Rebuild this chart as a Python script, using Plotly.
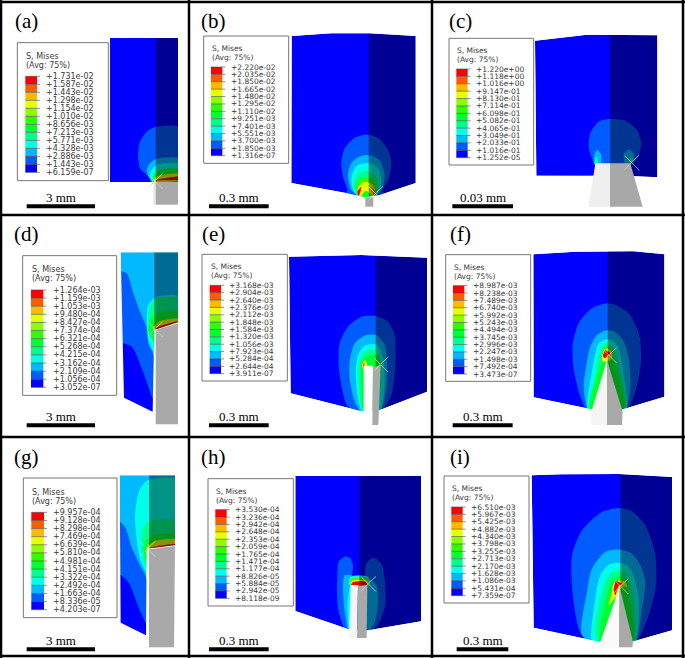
import plotly.graph_objects as go

# Abaqus 12 band spectrum, lowest stress first
SPECTRUM = ["#0000ff", "#005cff", "#00b9ff", "#00ffe8", "#00ff8b", "#00ff2e",
            "#2eff00", "#8bff00", "#e8ff00", "#ffb900", "#ff5c00", "#ff0000"]
PANEL_NAMES = ["(a)", "(b)", "(c)", "(d)", "(e)", "(f)", "(g)", "(h)", "(i)"]
SCALE_LABELS = ["3 mm", "0.3 mm", "0.03 mm", "3 mm", "0.3 mm", "0.3 mm", "3 mm", "0.3 mm", "0.3 mm"]

# contour legend values, top to bottom
MISES_A = ["+1.731e-02", "+1.587e-02", "+1.443e-02", "+1.298e-02", "+1.154e-02", "+1.010e-02", "+8.656e-03",
           "+7.213e-03", "+5.771e-03", "+4.328e-03", "+2.886e-03", "+1.443e-03", "+6.159e-07"]
MISES_B = ["+2.220e-02", "+2.035e-02", "+1.850e-02", "+1.665e-02", "+1.480e-02", "+1.295e-02", "+1.110e-02",
           "+9.251e-03", "+7.401e-03", "+5.551e-03", "+3.700e-03", "+1.850e-03", "+1.316e-07"]
MISES_C = ["+1.220e+00", "+1.118e+00", "+1.016e+00", "+9.147e-01", "+8.130e-01", "+7.114e-01", "+6.098e-01",
           "+5.082e-01", "+4.065e-01", "+3.049e-01", "+2.033e-01", "+1.016e-01", "+1.252e-05"]
MISES_D = ["+1.264e-03", "+1.159e-03", "+1.053e-03", "+9.480e-04", "+8.427e-04", "+7.374e-04", "+6.321e-04",
           "+5.268e-04", "+4.215e-04", "+3.162e-04", "+2.109e-04", "+1.056e-04", "+3.052e-07"]
MISES_E = ["+3.168e-03", "+2.904e-03", "+2.640e-03", "+2.376e-03", "+2.112e-03", "+1.848e-03", "+1.584e-03",
           "+1.320e-03", "+1.056e-03", "+7.923e-04", "+5.284e-04", "+2.644e-04", "+3.911e-07"]
MISES_F = ["+8.987e-03", "+8.238e-03", "+7.489e-03", "+6.740e-03", "+5.992e-03", "+5.243e-03", "+4.494e-03",
           "+3.745e-03", "+2.996e-03", "+2.247e-03", "+1.498e-03", "+7.492e-04", "+3.473e-07"]
MISES_G = ["+9.957e-04", "+9.128e-04", "+8.298e-04", "+7.469e-04", "+6.639e-04", "+5.810e-04", "+4.981e-04",
           "+4.151e-04", "+3.322e-04", "+2.492e-04", "+1.663e-04", "+8.336e-05", "+4.203e-07"]
MISES_H = ["+3.530e-04", "+3.236e-04", "+2.942e-04", "+2.648e-04", "+2.353e-04", "+2.059e-04", "+1.765e-04",
           "+1.471e-04", "+1.177e-04", "+8.826e-05", "+5.884e-05", "+2.942e-05", "+8.118e-09"]
MISES_I = ["+6.510e-03", "+5.967e-03", "+5.425e-03", "+4.882e-03", "+4.340e-03", "+3.798e-03", "+3.255e-03",
           "+2.713e-03", "+2.170e-03", "+1.628e-03", "+1.086e-03", "+5.431e-04", "+7.359e-07"]
MISES = [MISES_A, MISES_B, MISES_C, MISES_D, MISES_E, MISES_F, MISES_G, MISES_H, MISES_I]

# outlines below: block, contour bands (spectrum index, outline),
# darker side face and indenter, in each panel's own axis units
BLOCK_A = [(330, 114), (534, 114), (534, 546), (330, 546)]
BANDS_A = [
    (1, [(540, 382), (467, 381), (440, 395), (420, 425), (414, 465), (420, 505), (445, 530), (462, 552), (540, 552)]),
    (2, [(540, 476), (470, 476), (450, 490), (440, 510), (445, 528), (462, 552), (540, 552)]),
    (3, [(540, 492), (475, 492), (460, 503), (450, 520), (462, 552), (540, 552)]),
    (5, [(540, 508), (480, 510), (465, 520), (458, 535), (462, 552), (540, 552)]),
    (8, [(540, 522), (480, 526), (465, 535), (462, 548), (540, 538)]),
    (11, [(540, 530), (490, 535), (465, 542), (490, 541), (540, 538)]),
]
SHADE_A = [(467, 114), (534, 114), (534, 546), (467, 546)]
TOOL_A = [("#e8e8e8", [(460, 546), (467, 546), (467, 614), (460, 614)]),
          ("#a9a9a9", [(467, 546), (534, 546), (534, 614), (467, 614)])]
CROSS_A = (464, 543)

BLOCK_B = [(311, 108), (430, 100), (542, 100), (683, 108), (683, 549), (575, 585), (532, 592), (470, 578), (310, 549)]
BANDS_B = [
    (1, [(535, 404), (570, 413), (600, 450), (610, 490), (603, 535), (585, 572), (600, 590), (535, 600), (462, 590), (478, 572), (465, 530), (460, 490), (470, 445), (500, 413)]),
    (2, [(535, 465), (560, 470), (578, 485), (590, 525), (580, 570), (535, 600), (490, 570), (480, 525), (490, 490), (510, 472)]),
    (3, [(535, 490), (555, 493), (570, 505), (580, 540), (572, 578), (535, 600), (500, 578), (490, 545), (495, 515), (510, 495)]),
    (4, [(535, 512), (560, 525), (572, 550), (568, 578), (535, 600), (505, 583), (498, 560), (503, 535), (515, 518)]),
    (6, [(535, 530), (552, 537), (563, 550), (565, 575), (535, 600), (505, 575), (507, 550), (520, 533)]),
    (8, [(535, 545), (550, 552), (560, 565), (562, 583), (535, 600), (510, 583), (510, 565), (520, 550)]),
    (11, [(520, 560), (508, 575), (512, 588), (518, 572)]),
    (10, [(550, 562), (565, 578), (555, 587), (556, 574)]),
    (5, [(520, 590), (535, 572), (550, 590)]),
]
SHADE_B = [(542, 100), (683, 108), (683, 549), (575, 585), (542, 590)]
TOOL_B = [("#a9a9a9", [(532, 592), (556, 592), (556, 620), (532, 620)])]
CROSS_B = (562, 580)

BLOCK_C = [(309, 122), (465, 104), (676, 106), (676, 532), (600, 528), (480, 527), (313, 527)]
BANDS_C = [
    (1, [(534, 357), (580, 362), (615, 390), (628, 430), (620, 465), (600, 495), (490, 495), (480, 475), (470, 440), (475, 400), (500, 365)]),
    (2, [(495, 450), (508, 465), (505, 495), (488, 495), (487, 465)]),
    (2, [(590, 448), (605, 462), (605, 480), (580, 495), (575, 465)]),
    (4, [(491, 470), (498, 478), (497, 490), (489, 490)]),
    (4, [(597, 472), (604, 478), (596, 490), (590, 482)]),
]
SHADE_C = [(534, 104), (676, 106), (676, 532), (534, 528)]
TOOL_C = [("#efefef", [(490, 490), (534, 490), (534, 620), (470, 620)]),
          ("#a8a8a8", [(534, 490), (595, 490), (632, 620), (534, 620)])]
CROSS_C = (598, 487)

BLOCK_D = [(362, 112), (534, 112), (534, 322), (463, 345), (458, 590), (372, 548)]
BANDS_D = [
    (1, [(350, 170), (380, 175), (400, 235), (420, 290), (445, 350), (445, 385), (462, 425), (480, 600), (350, 600)]),
    (0, [(350, 385), (395, 395), (425, 460), (450, 530), (470, 600), (350, 600)]),
    (3, [(540, 245), (470, 245), (445, 270), (440, 320), (445, 375), (462, 410), (475, 345), (540, 322)]),
    (4, [(540, 250), (470, 250), (450, 275), (445, 320), (450, 360), (463, 385), (475, 345), (540, 322)]),
    (5, [(540, 290), (470, 295), (450, 315), (445, 345), (455, 370), (463, 380), (475, 345), (540, 322)]),
    (8, [(540, 312), (480, 318), (462, 335), (463, 345), (540, 325)]),
    (11, [(465, 340), (540, 318), (540, 325), (465, 345)]),
]
SHADE_D = [(463, 112), (534, 112), (534, 322), (463, 345)]
TOOL_D = [("#a9a9a9", [(467, 345), (534, 325), (534, 628), (467, 628)])]
CROSS_D = (464, 342)

BLOCK_E = [(303, 125), (520, 120), (717, 128), (717, 530), (575, 585), (527, 590), (308, 535)]
BANDS_E = [
    (1, [(563, 303), (600, 320), (620, 360), (622, 450), (610, 540), (575, 595), (527, 600), (478, 573), (462, 520), (452, 450), (455, 385), (480, 335), (520, 305)]),
    (2, [(563, 360), (590, 390), (597, 440), (595, 520), (575, 595), (527, 600), (500, 560), (485, 490), (485, 440), (500, 385), (530, 362)]),
    (3, [(563, 388), (575, 400), (585, 430), (590, 500), (575, 590), (527, 598), (510, 550), (503, 470), (510, 420), (530, 392)]),
    (4, [(563, 405), (570, 415), (580, 440), (578, 500), (560, 590), (527, 590), (520, 575), (512, 500), (515, 440), (530, 410)]),
    (5, [(563, 420), (578, 440), (578, 470), (565, 560), (527, 585), (520, 480), (520, 445), (535, 425)]),
    (8, [(530, 435), (538, 450), (530, 470), (522, 450)]),
    (10, [(528, 440), (531, 452), (528, 465), (525, 455)]),
]
SHADE_E = [(563, 124), (717, 128), (717, 530), (575, 585), (563, 587)]
TOOL_E = [("#ffffff", [(527, 452), (555, 452), (553, 630), (527, 590)]),
          ("#a9a9a9", [(555, 458), (578, 450), (571, 630), (553, 630)])]
CROSS_E = (577, 448)

BLOCK_F = [(304, 118), (430, 110), (604, 109), (697, 118), (697, 545), (575, 582), (475, 582), (305, 547)]
BANDS_F = [
    (1, [(527, 265), (555, 272), (590, 295), (622, 360), (627, 440), (610, 530), (580, 590), (470, 590), (445, 545), (425, 460), (422, 390), (440, 325), (480, 280)]),
    (2, [(527, 345), (550, 352), (575, 380), (590, 430), (595, 510), (578, 590), (473, 590), (455, 520), (465, 440), (475, 395), (495, 360)]),
    (3, [(527, 372), (545, 378), (560, 400), (575, 480), (582, 585), (470, 585), (480, 470), (490, 415), (500, 385)]),
    (4, [(527, 385), (550, 410), (565, 470), (580, 585), (472, 585), (490, 490), (500, 420), (510, 395)]),
    (5, [(527, 393), (540, 405), (548, 440), (577, 585), (474, 585), (507, 440), (512, 405)]),
    (8, [(527, 400), (540, 412), (540, 430), (525, 440), (515, 440), (510, 435), (515, 408)]),
    (11, [(520, 405), (530, 415), (520, 430), (513, 425)]),
    (11, [(528, 408), (535, 415), (529, 424)]),
]
SHADE_F = [(527, 109), (604, 109), (697, 118), (697, 545), (575, 582), (527, 590)]
TOOL_F = [("#f5f5f5", [(525, 435), (525, 630), (478, 630), (478, 590)]),
          ("#a9a9a9", [(525, 435), (572, 590), (570, 630), (525, 630)])]
CROSS_F = (530, 420)

BLOCK_G = [(359, 130), (525, 130), (525, 340), (440, 350), (438, 610), (362, 572)]
BANDS_G = [
    (3, [(447, 143), (540, 145), (540, 340), (445, 350), (445, 430), (420, 380), (405, 250), (420, 170)]),
    (4, [(540, 265), (447, 268), (430, 290), (425, 340), (440, 410), (455, 400), (455, 350), (540, 340)]),
    (1, [(350, 265), (375, 285), (395, 345), (420, 400), (440, 440), (455, 620), (350, 620)]),
    (0, [(350, 425), (385, 450), (415, 525), (450, 620), (350, 620)]),
    (5, [(540, 305), (460, 310), (440, 325), (430, 350), (443, 395), (455, 350), (540, 340)]),
    (8, [(540, 322), (470, 325), (445, 340), (442, 365), (450, 350), (540, 335)]),
    (11, [(450, 348), (540, 336), (540, 342), (450, 352)]),
]
SHADE_G = [(447, 130), (525, 130), (525, 340), (447, 350)]
TOOL_G = [("#a9a9a9", [(447, 352), (525, 342), (522, 646), (447, 646)])]
CROSS_G = (442, 350)

BLOCK_H = [(322, 132), (699, 132), (699, 568), (540, 595), (482, 592), (322, 537)]
BANDS_H = [
    (1, [(472, 373), (488, 380), (495, 400), (490, 450), (485, 600), (468, 585), (450, 530), (448, 430), (452, 390)]),
    (1, [(555, 377), (580, 395), (590, 440), (592, 520), (570, 578), (545, 600), (548, 460), (532, 438), (535, 395)]),
    (2, [(470, 430), (490, 430), (488, 460), (482, 600), (470, 540), (465, 470)]),
    (2, [(540, 440), (565, 460), (570, 510), (560, 570), (540, 600)]),
    (3, [(478, 520), (487, 460), (490, 460), (484, 600)]),
    (3, [(483, 460), (488, 434), (540, 434), (545, 460)]),
    (6, [(485, 458), (492, 440), (538, 440), (543, 458)]),
    (8, [(487, 455), (495, 445), (537, 446), (540, 458)]),
    (11, [(490, 458), (495, 450), (535, 450), (538, 458)]),
]
SHADE_H = [(514, 132), (699, 132), (699, 568), (540, 595), (514, 595)]
TOOL_H = [("#f5f5f5", [(488, 460), (510, 460), (507, 618), (483, 618)]),
          ("#a9a9a9", [(510, 462), (538, 460), (536, 618), (507, 618)])]
CROSS_H = (540, 455)

BLOCK_I = [(299, 130), (390, 127), (560, 126), (720, 135), (720, 595), (605, 628), (505, 630), (305, 587)]
BANDS_I = [
    (1, [(565, 228), (600, 238), (640, 280), (670, 370), (672, 460), (650, 550), (605, 640), (505, 640), (445, 600), (420, 460), (420, 370), (450, 295), (510, 240)]),
    (2, [(565, 353), (600, 365), (625, 400), (640, 450), (630, 530), (605, 640), (505, 640), (450, 610), (465, 480), (480, 410), (520, 360)]),
    (3, [(565, 392), (585, 400), (600, 420), (620, 500), (605, 635), (490, 635), (478, 620), (490, 500), (505, 430), (530, 398)]),
    (4, [(565, 415), (585, 425), (595, 450), (610, 530), (600, 635), (510, 635), (490, 600), (515, 465), (535, 425)]),
    (5, [(565, 432), (585, 445), (590, 490), (605, 635), (505, 635), (525, 490), (540, 445)]),
    (8, [(565, 445), (580, 450), (585, 465), (570, 465), (555, 490), (530, 520), (538, 490), (545, 455)]),
    (11, [(552, 448), (570, 455), (560, 462), (550, 490), (545, 475)]),
]
SHADE_I = [(565, 126), (720, 135), (720, 595), (605, 628), (565, 630)]
TOOL_I = [("#fafafa", [(563, 465), (561, 648), (500, 648), (505, 630)]),
          ("#a9a9a9", [(563, 465), (603, 630), (601, 646), (561, 646)])]
CROSS_I = (565, 462)

BLOCKS = [BLOCK_A, BLOCK_B, BLOCK_C, BLOCK_D, BLOCK_E, BLOCK_F, BLOCK_G, BLOCK_H, BLOCK_I]
BLOCK_LEVEL = [0, 0, 0, 2, 0, 0, 2, 0, 0]
BANDS = [BANDS_A, BANDS_B, BANDS_C, BANDS_D, BANDS_E, BANDS_F, BANDS_G, BANDS_H, BANDS_I]
SHADES = [SHADE_A, SHADE_B, SHADE_C, SHADE_D, SHADE_E, SHADE_F, SHADE_G, SHADE_H, SHADE_I]
TOOLS = [TOOL_A, TOOL_B, TOOL_C, TOOL_D, TOOL_E, TOOL_F, TOOL_G, TOOL_H, TOOL_I]
CROSSES = [CROSS_A, CROSS_B, CROSS_C, CROSS_D, CROSS_E, CROSS_F, CROSS_G, CROSS_H, CROSS_I]

# layout: cell origin and size on the page, then placement inside the cell (3 units = 1 px)
CELLS = [(0, 0, 190, 215), (188, 0, 245, 215), (432, 0, 253, 215),
         (0, 215, 190, 220), (188, 215, 245, 220), (432, 215, 253, 220),
         (0, 432, 190, 226), (188, 432, 245, 226), (432, 432, 253, 226)]
NAME_POS = [(80, 63), (77, 62), (85, 62), (80, 58), (77, 56), (85, 58), (80, 76), (77, 74), (85, 74)]
LEGEND_BOX = [(52, 128, 325, 542), (47, 108, 302, 490), (51, 115, 305, 495),
              (68, 122, 350, 541), (42, 118, 298, 498), (41, 119, 296, 499),
              (70, 138, 351, 557), (60, 140, 316, 522), (36, 132, 291, 513)]
LEGEND_BAR = [(76, 111, 229, 517), (69, 103, 201, 467), (73, 107, 207, 473),
              (93, 130, 225, 517), (65, 99, 211, 476), (63, 97, 212, 477),
              (94, 132, 241, 533), (82, 116, 233, 499), (58, 92, 225, 491)]
LABEL_X = [135, 126, 130, 157, 120, 120, 157, 139, 115]
TITLE_Y = [(168, 197), (146, 172), (152, 179), (163, 191), (155, 182), (157, 184), (180, 209), (178, 205), (169, 196)]
LABEL_SIZE = [8, 7.5, 7.5, 8, 7.5, 7.5, 8, 7.5, 7.5]
SCALE_BAR = [(80, 285, 619), (63, 242, 619), (61, 243, 619), (80, 285, 631), (63, 242, 631),
             (62, 242, 631), (80, 285, 652), (63, 242, 652), (74, 229, 652)]
FRAME_X = [1, 189, 432, 683]
FRAME_Y = [2, 215, 437, 656]
WIDTH, HEIGHT = 685, 658


def svg_path(points):
    return "M " + " L ".join(f"{x} {y}" for x, y in points) + " Z"


def add_polygon(fig, points, color, axis, smooth=False, opacity=1.0):
    xs = [p[0] for p in points] + [points[0][0]]
    ys = [p[1] for p in points] + [points[0][1]]
    line = dict(width=0, shape="spline", smoothing=0.7) if smooth else dict(width=0)
    fig.add_trace(go.Scatter(x=xs, y=ys, mode="lines", fill="toself", fillcolor=color, line=line,
                             opacity=opacity, hoverinfo="skip", showlegend=False,
                             xaxis=f"x{axis}", yaxis=f"y{axis}"))


def add_legend(fig, idx, axis):
    xref, yref = f"x{axis}", f"y{axis}"
    x0, y0, x1, y1 = LEGEND_BOX[idx]
    fig.add_shape(type="rect", xref=xref, yref=yref, x0=x0, y0=y0, x1=x1, y1=y1,
                  fillcolor="white", line=dict(color="#777777", width=1))
    bx0, bx1, by0, by1 = LEGEND_BAR[idx]
    step = (by1 - by0) / 12
    for k in range(12):
        fig.add_shape(type="rect", xref=xref, yref=yref, x0=bx0, x1=bx1, y0=by0 + k * step, y1=by0 + (k + 1) * step,
                      fillcolor=SPECTRUM[11 - k], line=dict(width=0))
    size = LABEL_SIZE[idx]
    for k, label in enumerate(MISES[idx]):
        y = by0 + k * step
        fig.add_shape(type="line", xref=xref, yref=yref, x0=bx0, x1=bx1 + 9, y0=y, y1=y,
                      line=dict(color="#444444", width=0.6))
        fig.add_annotation(xref=xref, yref=yref, x=LABEL_X[idx], y=y, text=label, showarrow=False, xanchor="left",
                           yanchor="middle", borderpad=0, font=dict(family="DejaVu Sans", size=size, color="#3a3a3a"))
    for text, y in zip(["S, Mises", "(Avg: 75%)"], TITLE_Y[idx]):
        fig.add_annotation(xref=xref, yref=yref, x=bx0, y=y, text=text, showarrow=False, xanchor="left",
                           yanchor="middle", borderpad=0, font=dict(family="DejaVu Sans", size=size, color="#3a3a3a"))


def draw_panel(fig, idx):
    axis = idx + 1
    xref, yref = f"x{axis}", f"y{axis}"
    cx, cy, cw, ch = CELLS[idx]
    fig.update_layout({
        f"xaxis{axis}": dict(domain=[cx / WIDTH, (cx + cw) / WIDTH], range=[0, cw * 3], visible=False,
                             anchor=yref, fixedrange=True),
        f"yaxis{axis}": dict(domain=[1 - (cy + ch) / HEIGHT, 1 - cy / HEIGHT], range=[ch * 3, 0], visible=False,
                             anchor=xref, fixedrange=True),
    })
    add_polygon(fig, BLOCKS[idx], SPECTRUM[BLOCK_LEVEL[idx]], axis)
    for level, outline in BANDS[idx]:
        add_polygon(fig, outline, SPECTRUM[level], axis, smooth=True)
    add_polygon(fig, SHADES[idx], "black", axis, opacity=0.42)

    # white everywhere outside the block trims the smoothed contours to its outline
    cell = [(0, 0), (cw * 3, 0), (cw * 3, ch * 3), (0, ch * 3)]
    fig.add_shape(type="path", xref=xref, yref=yref, path=svg_path(cell) + " " + svg_path(BLOCKS[idx]),
                  fillrule="evenodd", fillcolor="white", line=dict(width=0))
    for color, outline in TOOLS[idx]:
        fig.add_shape(type="path", xref=xref, yref=yref, path=svg_path(outline), fillcolor=color, line=dict(width=0))

    # mesh edges that show as a pale cross at the contact corner
    cross_x, cross_y = CROSSES[idx]
    for dx, dy in [(-20, -20), (24, -22), (24, 24), (-20, 22)]:
        fig.add_shape(type="line", xref=xref, yref=yref, x0=cross_x, y0=cross_y,
                      x1=cross_x + dx, y1=cross_y + dy, line=dict(color="#d8d8c8", width=0.7))

    add_legend(fig, idx, axis)

    x0, x1, y = SCALE_BAR[idx]
    fig.add_shape(type="rect", xref=xref, yref=yref, x0=x0, x1=x1, y0=y - 6, y1=y + 6,
                  fillcolor="black", line=dict(width=0))
    fig.add_annotation(xref=xref, yref=yref, x=(x0 + x1) / 2, y=y - 28, text=SCALE_LABELS[idx],
                       showarrow=False, borderpad=0, font=dict(family="Liberation Serif", size=13, color="black"))
    nx, ny = NAME_POS[idx]
    fig.add_annotation(xref=xref, yref=yref, x=nx, y=ny, text=PANEL_NAMES[idx], showarrow=False,
                       borderpad=0, font=dict(family="Liberation Serif", size=21, color="black"))


fig = go.Figure()
for i in range(9):
    draw_panel(fig, i)

# black grid around the panels
for x in FRAME_X:
    fig.add_shape(type="line", xref="paper", yref="paper", x0=x / WIDTH, x1=x / WIDTH, y0=0, y1=1,
                  line=dict(color="black", width=2.5))
for y in FRAME_Y:
    fig.add_shape(type="line", xref="paper", yref="paper", x0=0, x1=1, y0=1 - y / HEIGHT, y1=1 - y / HEIGHT,
                  line=dict(color="black", width=2.5))

fig.update_layout(width=WIDTH, height=HEIGHT, margin=dict(l=0, r=0, t=0, b=0), showlegend=False,
                  paper_bgcolor="white", plot_bgcolor="white")
fig.write_html("out.html", config=dict(displayModeBar=False),
               post_script="document.body.style.margin='0';")
